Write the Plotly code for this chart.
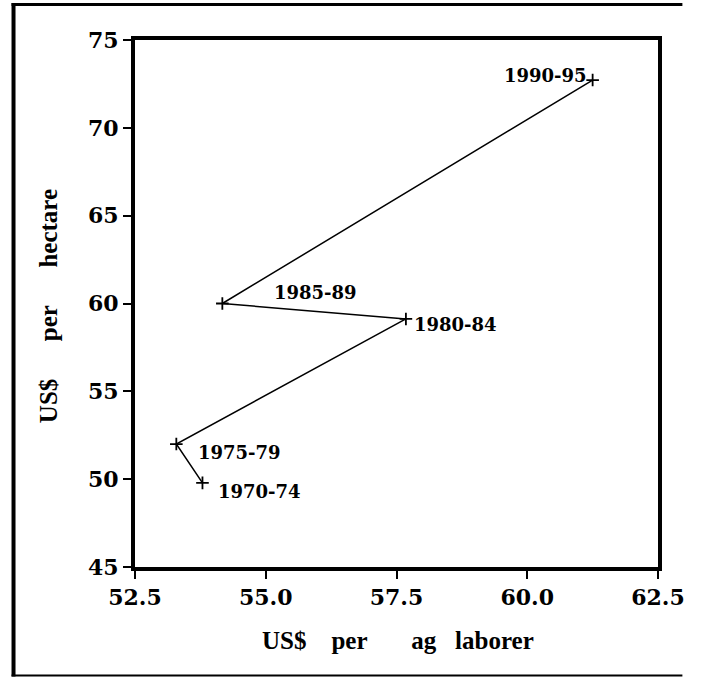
import plotly.graph_objects as go

periods = ["1970-74", "1975-79", "1980-84", "1985-89", "1990-95"]
per_laborer = [53.79, 53.29, 57.68, 54.17, 61.25]
per_hectare = [49.79, 52.00, 59.12, 60.00, 72.72]

x_ticks = [52.5, 55.0, 57.5, 60.0, 62.5]
x_tick_text = ["52.5", "55.0", "57.5", "60.0", "62.5"]
y_ticks = [45, 50, 55, 60, 65, 70, 75]

NB = "\u00a0"
x_title = "US$" + NB * 4 + "per" + NB * 7 + "ag" + NB * 3 + "laborer"
y_title = "US$" + NB * 6 + "per" + NB * 6 + "hectare"

label_style = {
    "1970-74": ("left", 14, -9),
    "1975-79": ("left", 20, -8),
    "1980-84": ("left", 6, -6),
    "1985-89": ("left", 50, 11),
    "1990-95": ("right", -4, 5),
}

W, H = 697, 677
ML, MR, MT, MB = 135, 26, 40, 110
pw = W - ML - MR
ph = H - MT - MB


def px_x(v):
    return (v - ML) / pw


def px_y(v):
    return (H - MB - v) / ph


fig = go.Figure()
fig.add_trace(go.Scatter(
    x=per_laborer, y=per_hectare, mode="lines+markers",
    line=dict(color="black", width=1.5),
    marker=dict(symbol="cross-thin", size=9, line=dict(color="black", width=1.8)),
    showlegend=False, hoverinfo="skip",
))

lab_font = dict(family="DejaVu Serif", size=18, color="black", weight="bold")
for p, xv, yv in zip(periods, per_laborer, per_hectare):
    xa, xs, ys = label_style[p]
    fig.add_annotation(x=xv, y=yv, text=p, showarrow=False, xanchor=xa, yanchor="middle",
                       xshift=xs, yshift=ys, font=lab_font)

title_font = dict(family="Liberation Serif", size=25, color="black", weight="bold")
fig.add_annotation(xref="paper", yref="paper", x=px_x(405), y=px_y(640),
                   text=x_title, showarrow=False, xanchor="center", yanchor="middle",
                   font=title_font)
fig.add_annotation(xref="paper", yref="paper", x=px_x(46), y=px_y(306),
                   text=y_title, showarrow=False, xanchor="center", yanchor="middle",
                   textangle=-90, font=title_font)

fig.add_shape(type="line", xref="paper", yref="paper", x0=px_x(10.5), x1=px_x(10.5),
              y0=px_y(3), y1=px_y(676.5), line=dict(color="black", width=4))
fig.add_shape(type="line", xref="paper", yref="paper", x0=px_x(8.5), x1=px_x(W - 1),
              y0=px_y(4.5), y1=px_y(4.5), line=dict(color="black", width=3))
fig.add_shape(type="line", xref="paper", yref="paper", x0=px_x(8.5), x1=px_x(W - 1),
              y0=px_y(675.5), y1=px_y(675.5), line=dict(color="black", width=2))

tick_font = dict(family="DejaVu Serif", size=22, color="black", weight="bold")
axis_common = dict(showgrid=False, zeroline=False, showline=True, linecolor="black",
                   linewidth=4, mirror=True, ticks="outside", ticklen=8, tickwidth=2,
                   tickcolor="black", tickfont=tick_font, ticklabeloverflow="allow")
fig.update_xaxes(range=[52.5, 62.5], tickvals=x_ticks, ticktext=x_tick_text, **axis_common)
fig.update_yaxes(range=[45, 75], tickvals=y_ticks, **axis_common)

fig.update_layout(
    width=W - 16, height=H - 16, margin=dict(l=ML, r=MR, t=MT, b=MB),
    paper_bgcolor="white", plot_bgcolor="white",
)

fig.write_html(
    "out.html",
    config={"displayModeBar": False, "responsive": False},
    post_script=("var gd=document.getElementById('{plot_id}');"
                 "document.documentElement.style.margin='0';"
                 "document.body.style.margin='0';"
                 "document.body.style.overflow='hidden';"
                 "Plotly.relayout(gd,{width:%d,height:%d});" % (W, H)),
)
